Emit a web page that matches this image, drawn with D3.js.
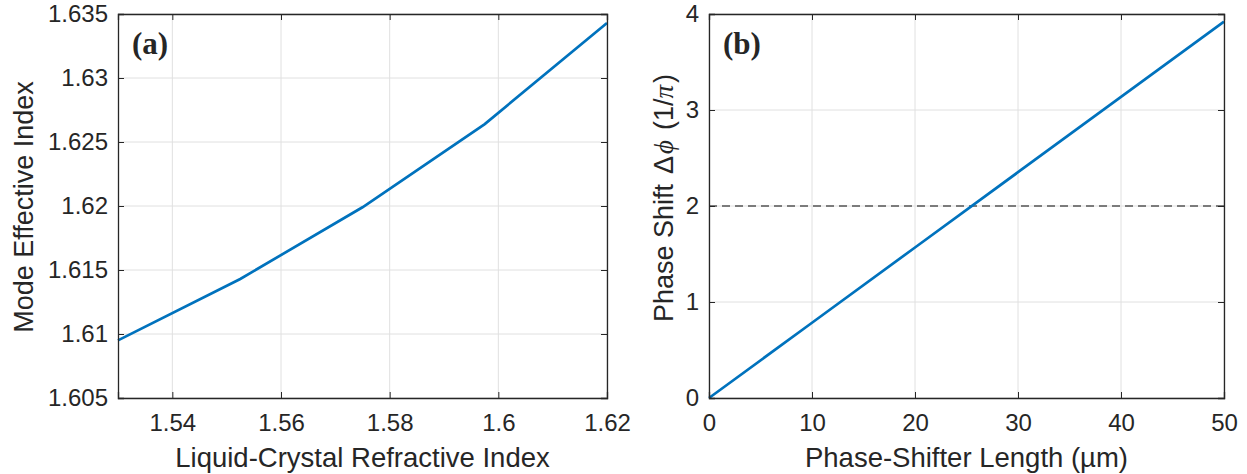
<!DOCTYPE html>
<html>
<head>
<meta charset="utf-8">
<script src="https://cdn.jsdelivr.net/npm/d3@7"></script>
<style>
  body { margin: 0; background: #fff; }
  text { font-family: "Liberation Sans", Arial, sans-serif; fill: #262626; }
</style>
</head>
<body>
<div id="chart"></div>
<script>
// panel (a) data
var lcIndex = [1.53, 1.5525, 1.575, 1.5975, 1.62];
var modeIndex = [1.6095, 1.6143, 1.6199, 1.6264, 1.6343];
var aXTicks = [1.54, 1.56, 1.58, 1.6, 1.62];
var aYTicks = [1.605, 1.61, 1.615, 1.62, 1.625, 1.63, 1.635];

// panel (b) data
var shifterLen = [0, 10, 20, 30, 40, 50];
var phaseShift = [0, 0.784, 1.568, 2.352, 3.136, 3.92];
var bXTicks = [0, 10, 20, 30, 40, 50];
var bYTicks = [0, 1, 2, 3, 4];
var refPhase = 2;

var svgWidth = 1247;
var svgHeight = 474;

var svg = d3.select("#chart").append("svg").attr("width", svgWidth).attr("height", svgHeight);

function drawPanel(p) {
  var x = d3.scaleLinear().domain(p.xDomain).range([p.left, p.right]);
  var y = d3.scaleLinear().domain(p.yDomain).range([p.bottom, p.top]);
  var g = svg.append("g");

  // grid
  g.selectAll(".vgrid").data(p.xTicks).enter().append("line")
    .attr("x1", d => x(d)).attr("x2", d => x(d))
    .attr("y1", p.top).attr("y2", p.bottom)
    .attr("stroke", "#e0e0e0").attr("stroke-width", 1);
  g.selectAll(".hgrid").data(p.yTicks).enter().append("line")
    .attr("x1", p.left).attr("x2", p.right)
    .attr("y1", d => y(d)).attr("y2", d => y(d))
    .attr("stroke", "#e0e0e0").attr("stroke-width", 1);

  if (p.refY !== undefined) {
    g.append("line")
      .attr("x1", p.left).attr("x2", p.right)
      .attr("y1", y(p.refY)).attr("y2", y(p.refY))
      .attr("stroke", "#555").attr("stroke-width", 1.3)
      .attr("stroke-dasharray", "8,5");
  }

  // data line
  var line = d3.line().x(d => x(d[0])).y(d => y(d[1]));
  g.append("path")
    .datum(p.xs.map((v, i) => [v, p.ys[i]]))
    .attr("d", line)
    .attr("fill", "none")
    .attr("stroke", "#0072BD")
    .attr("stroke-width", 2.7);

  // axes, ticks inward on all four sides
  var tk = 6;
  var axB = d3.axisBottom(x).tickValues(p.xTicks).tickSize(-tk).tickPadding(16).tickFormat(p.xFmt);
  var axL = d3.axisLeft(y).tickValues(p.yTicks).tickSize(-tk).tickPadding(10).tickFormat(p.yFmt);
  var axT = d3.axisTop(x).tickValues(p.xTicks).tickSize(-tk).tickFormat("");
  var axR = d3.axisRight(y).tickValues(p.yTicks).tickSize(-tk).tickFormat("");

  var gb = g.append("g").attr("transform", `translate(0, ${p.bottom})`).call(axB);
  var gl = g.append("g").attr("transform", `translate(${p.left}, 0)`).call(axL);
  var gt = g.append("g").attr("transform", `translate(0, ${p.top})`).call(axT);
  var gr = g.append("g").attr("transform", `translate(${p.right}, 0)`).call(axR);

  [gb, gl, gt, gr].forEach(function(a) {
    a.selectAll("path").attr("stroke", "#262626").attr("stroke-width", 1.3);
    a.selectAll("line").attr("stroke", "#262626").attr("stroke-width", 1);
    a.selectAll("text").style("font-size", "24px").attr("fill", "#262626")
      .style("font-family", '"Liberation Sans", Arial, sans-serif');
  });

  // panel letter
  g.append("text")
    .attr("x", p.left + 14).attr("y", 54)
    .style("font-family", '"Liberation Serif", "Times New Roman", serif')
    .style("font-weight", "bold").style("font-size", "31px").attr("fill", "#111")
    .text(p.letter);

  // x title
  g.append("text")
    .attr("x", (p.left + p.right) / 2).attr("y", 467)
    .attr("text-anchor", "middle")
    .style("font-size", "27.5px")
    .text(p.xTitle);

  // y title
  var yt = g.append("text")
    .attr("transform", `translate(${p.left - p.yTitleOff}, ${p.yTitleMid}) rotate(-90)`)
    .attr("text-anchor", "middle")
    .style("font-size", "27px");
  p.yTitle.forEach(function(part) {
    var t = yt.append("tspan").text(part.t);
    if (part.dx) t.attr("dx", part.dx);
    if (part.italic) t.style("font-style", "italic").style("font-family", '"Liberation Serif", "Times New Roman", serif');
  });
}

drawPanel({
  left: 118, right: 607, top: 14, bottom: 398,
  xDomain: [1.53, 1.62], yDomain: [1.605, 1.635],
  xTicks: aXTicks, yTicks: aYTicks,
  xFmt: d3.format("~g"), yFmt: d3.format("~g"),
  xs: lcIndex, ys: modeIndex,
  letter: "(a)",
  xTitle: "Liquid-Crystal Refractive Index",
  yTitle: [{t: "Mode Effective Index"}],
  yTitleOff: 85, yTitleMid: 207
});

drawPanel({
  left: 709, right: 1224, top: 14, bottom: 398,
  xDomain: [0, 50], yDomain: [0, 4],
  xTicks: bXTicks, yTicks: bYTicks,
  xFmt: d3.format("d"), yFmt: d3.format("d"),
  xs: shifterLen, ys: phaseShift, refY: refPhase,
  letter: "(b)",
  xTitle: "Phase-Shifter Length (\u00b5m)",
  yTitle: [{t: "Phase Shift"}, {t: "\u0394", dx: 10}, {t: "\u03d5", italic: true, dx: 2}, {t: "(1/", dx: 10}, {t: "\u03c0", italic: true}, {t: ")", dx: 2}],
  yTitleOff: 36, yTitleMid: 198
});
</script>
</body>
</html>
